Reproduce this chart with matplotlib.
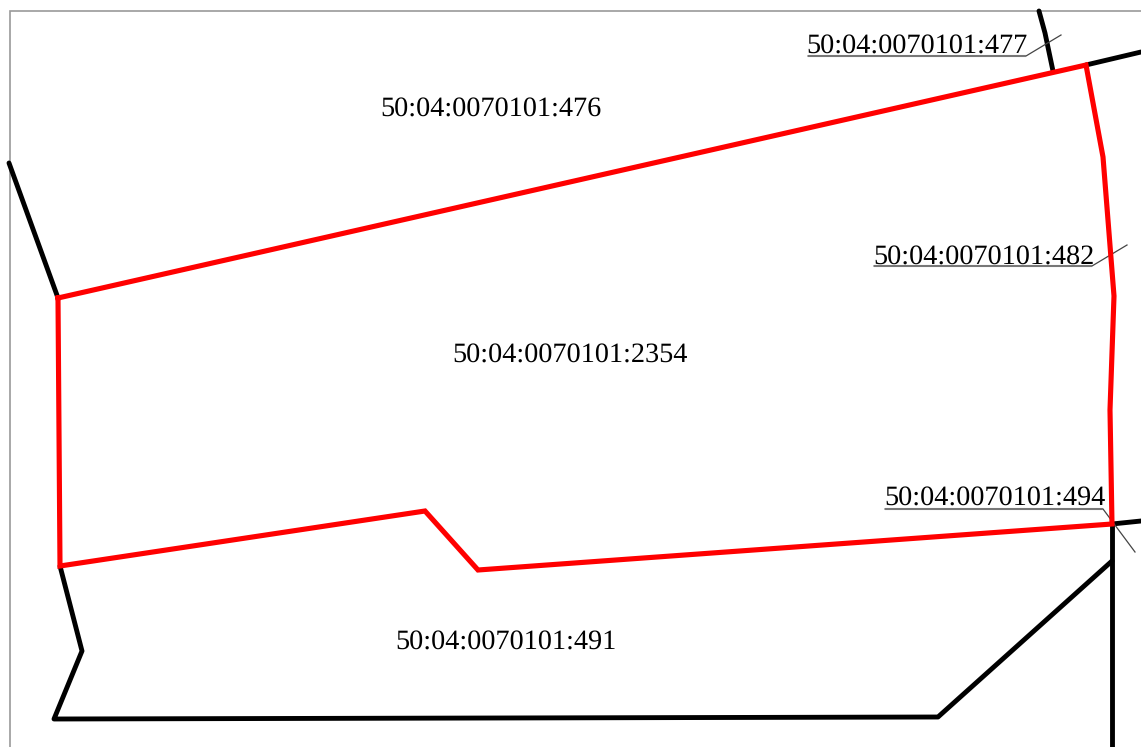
import matplotlib
matplotlib.use("Agg")
from matplotlib import pyplot as plt

# widths jump around with hinting on
plt.rcParams['text.hinting'] = 'none'

# parcel boundary, pixel coords of the drawing
red_x = [58, 1086, 1103, 1114, 1110, 1112, 478, 425, 60, 58]
red_y = [298, 65, 157, 296, 410, 524, 570, 511, 566, 298]

black_lines = [
    ([9, 58], [163, 298]),
    ([1039, 1045, 1053], [11, 33, 71]),
    ([1086, 1141], [65, 52]),
    ([1112, 1141], [524, 521]),
    ([1112, 1112], [524, 747]),
    ([1112, 938, 54, 82, 60], [561, 717, 719, 651, 566]),
]

# plain labels: text, left x, baseline y
labels = ["50:04:0070101:476", "50:04:0070101:2354", "50:04:0070101:491"]
labels_x = [380.5, 452.5, 395.5]
labels_y = [117, 363, 650]

# leader labels: text, left x, baseline y
leader_labels = ["50:04:0070101:477", "50:04:0070101:482", "50:04:0070101:494"]
leader_x = [806.5, 873.5, 884.5]
leader_y = [54, 265, 506]
leader_lines = [
    ([808, 1026, 1061], [56, 56, 35]),
    ([874, 1092, 1127], [266, 266, 245]),
    ([885, 1103, 1135], [509, 509, 552]),
]

fig = plt.figure(figsize=(11.41, 7.47), dpi=100)
ax = fig.add_axes([0, 0, 1, 1])
ax.set_xlim(0, 1141)
ax.set_ylim(747, 0)
ax.axis("off")

# frame of the drawing
ax.plot([9.5, 9.5, 1141], [747, 11, 11], color="#9a9a9a", lw=1.2, solid_joinstyle="miter")

for xs, ys in black_lines:
    ax.plot(xs, ys, color="black", lw=3.5, solid_capstyle="round", solid_joinstyle="round")

for xs, ys in leader_lines:
    ax.plot(xs, ys, color="#444444", lw=0.9, solid_joinstyle="miter")
    # underline is heavier than the slanted tick
    ax.plot(xs[:2], ys[:2], color="#777777", lw=1.5, solid_capstyle="butt")

ax.plot(red_x, red_y, color="#ff0000", lw=3.7, solid_joinstyle="miter", solid_capstyle="projecting")

for t, x, y in zip(labels + leader_labels, labels_x + leader_x, labels_y + leader_y):
    ax.text(x, y, t, family="Liberation Serif", fontsize=20.3, color="black", ha="left", va="baseline")

plt.savefig("out.png", dpi=100)
